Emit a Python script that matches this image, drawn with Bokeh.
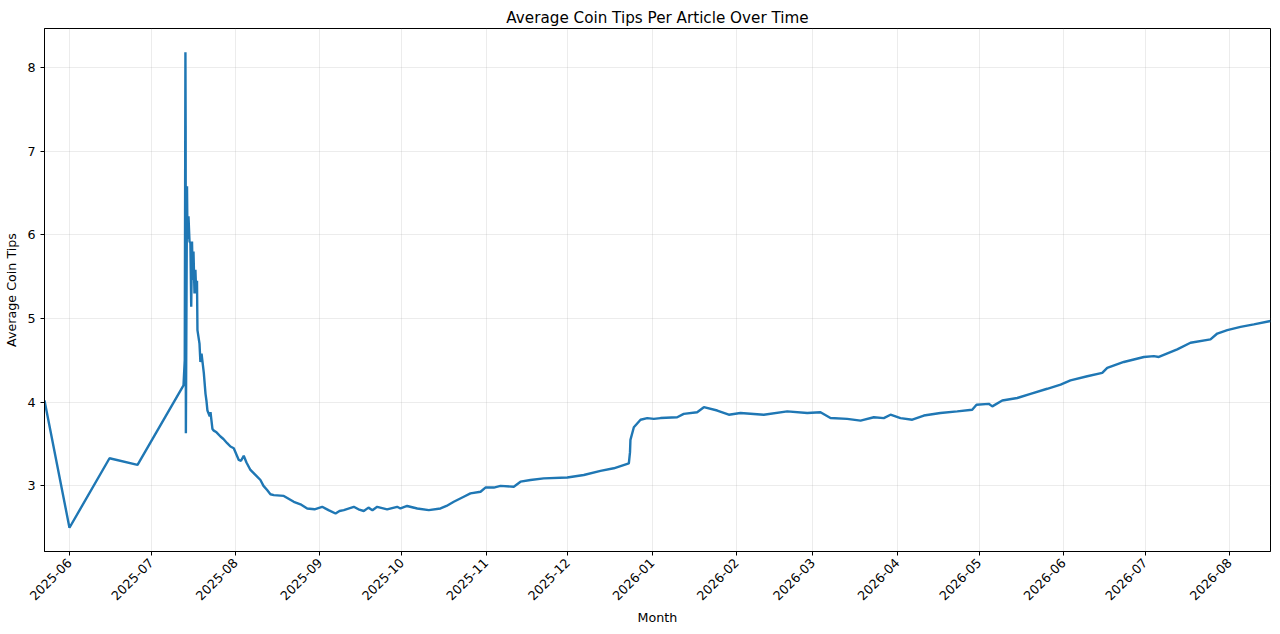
import pandas as pd
from math import pi
from bokeh.plotting import figure
from bokeh.models import Range1d, DatetimeTickFormatter, MonthsTicker, SingleIntervalTicker, ColumnDataSource
from bokeh.embed import file_html
from bokeh.resources import INLINE

dates = [
    "2025-05-22 20:00", "2025-06-01 00:00", "2025-06-15 17:00", "2025-06-26 00:00", "2025-07-12 21:00",
    "2025-07-13 08:00", "2025-07-13 14:00", "2025-07-13 16:00", "2025-07-13 18:00", "2025-07-14 04:00",
    "2025-07-14 08:00", "2025-07-14 17:00", "2025-07-15 02:00", "2025-07-15 10:00", "2025-07-15 17:00",
    "2025-07-16 00:00", "2025-07-16 07:00", "2025-07-16 13:00", "2025-07-16 22:00", "2025-07-17 06:00",
    "2025-07-17 13:00", "2025-07-17 20:00", "2025-07-18 00:00", "2025-07-18 18:00", "2025-07-19 02:00",
    "2025-07-19 12:00", "2025-07-20 08:00", "2025-07-20 23:00", "2025-07-21 07:00", "2025-07-21 16:00",
    "2025-07-22 12:00", "2025-07-22 19:00", "2025-07-23 12:00", "2025-07-24 00:00", "2025-07-25 00:00",
    "2025-07-26 11:00", "2025-07-27 13:00", "2025-07-28 22:00", "2025-07-30 03:00", "2025-07-31 08:00",
    "2025-08-02 04:00", "2025-08-03 00:00", "2025-08-04 00:00", "2025-08-05 00:00", "2025-08-06 11:00",
    "2025-08-08 22:00", "2025-08-10 03:00", "2025-08-11 06:00", "2025-08-12 14:00", "2025-08-13 19:00",
    "2025-08-15 01:00", "2025-08-18 17:00", "2025-08-22 09:00", "2025-08-24 20:00", "2025-08-27 07:00",
    "2025-08-30 00:00", "2025-09-01 19:00", "2025-09-04 03:00", "2025-09-06 17:00", "2025-09-08 04:00",
    "2025-09-09 18:00", "2025-09-13 10:00", "2025-09-15 03:00", "2025-09-17 02:00", "2025-09-18 19:00",
    "2025-09-20 06:00", "2025-09-22 00:00", "2025-09-25 16:00", "2025-09-29 08:00", "2025-09-30 13:00",
    "2025-10-03 00:00", "2025-10-06 17:00", "2025-10-10 23:00", "2025-10-15 06:00", "2025-10-17 11:00",
    "2025-10-20 03:00", "2025-10-23 19:00", "2025-10-26 06:00", "2025-10-29 23:00", "2025-10-31 18:00",
    "2025-11-03 20:00", "2025-11-06 07:00", "2025-11-11 04:00", "2025-11-13 15:00", "2025-11-17 07:00",
    "2025-11-22 04:00", "2025-11-30 19:00", "2025-12-06 21:00", "2025-12-13 00:00", "2025-12-17 21:00",
    "2025-12-23 10:00", "2025-12-23 20:00", "2025-12-24 00:00", "2025-12-25 06:00", "2025-12-27 17:00",
    "2025-12-30 04:00", "2026-01-01 14:00", "2026-01-04 01:00", "2026-01-10 04:00", "2026-01-12 14:00",
    "2026-01-17 12:00", "2026-01-19 23:00", "2026-01-24 21:00", "2026-01-29 03:00", "2026-02-02 10:00",
    "2026-02-10 23:00", "2026-02-19 14:00", "2026-02-26 22:00", "2026-03-03 19:00", "2026-03-07 11:00",
    "2026-03-13 14:00", "2026-03-18 12:00", "2026-03-23 09:00", "2026-03-27 01:00", "2026-03-29 12:00",
    "2026-04-02 04:00", "2026-04-06 12:00", "2026-04-10 18:00", "2026-04-16 20:00", "2026-04-23 00:00",
    "2026-04-28 12:00", "2026-04-30 02:00", "2026-05-04 14:00", "2026-05-05 21:00", "2026-05-09 13:00",
    "2026-05-15 01:00", "2026-05-19 22:00", "2026-05-26 01:00", "2026-05-30 23:00", "2026-06-03 14:00",
    "2026-06-09 18:00", "2026-06-15 06:00", "2026-06-17 02:00", "2026-06-23 04:00", "2026-06-30 13:00",
    "2026-07-04 05:00", "2026-07-06 01:00", "2026-07-12 19:00", "2026-07-17 16:00", "2026-07-25 00:00",
    "2026-07-27 12:00", "2026-07-31 04:00", "2026-08-05 01:00", "2026-08-09 22:00", "2026-08-16 01:00",
]

avg_tips = [
    4.02, 2.50, 3.33, 3.25, 4.20,
    4.50, 8.18, 7.30, 3.63, 6.58,
    5.95, 6.22, 5.92, 5.90, 5.14,
    5.92, 5.46, 5.80, 5.30, 5.58,
    5.30, 5.45, 4.86, 4.70, 4.48,
    4.58, 4.35, 4.10, 4.02, 3.90,
    3.83, 3.88, 3.68, 3.66, 3.64,
    3.59, 3.56, 3.51, 3.47, 3.45,
    3.31, 3.30, 3.36, 3.28, 3.19,
    3.11, 3.07, 3.00, 2.95, 2.90,
    2.89, 2.88, 2.81, 2.78, 2.73,
    2.72, 2.75, 2.71, 2.67, 2.70,
    2.71, 2.75, 2.72, 2.70, 2.74,
    2.71, 2.75, 2.72, 2.75, 2.73,
    2.76, 2.73, 2.71, 2.73, 2.76,
    2.81, 2.87, 2.91, 2.93, 2.98,
    2.98, 3.00, 2.99, 3.05, 3.07,
    3.09, 3.10, 3.13, 3.18, 3.21,
    3.27, 3.40, 3.55, 3.70, 3.79,
    3.81, 3.80, 3.81, 3.82, 3.86,
    3.88, 3.94, 3.90, 3.85, 3.87,
    3.85, 3.89, 3.87, 3.88, 3.81,
    3.80, 3.78, 3.82, 3.81, 3.85,
    3.81, 3.79, 3.84, 3.87, 3.89,
    3.91, 3.97, 3.98, 3.95, 4.02,
    4.05, 4.10, 4.16, 4.21, 4.26,
    4.31, 4.35, 4.41, 4.48, 4.54,
    4.55, 4.54, 4.63, 4.71, 4.75,
    4.82, 4.86, 4.90, 4.93, 4.97,
]

title_text = "Average Coin Tips Per Article Over Time"
x_label = "Month"
y_label = "Average Coin Tips"

dt = pd.to_datetime(dates)
src = ColumnDataSource(dict(x=dt, y=avg_tips))

ymin, ymax = min(avg_tips), max(avg_tips)
pad = (ymax - ymin) * 0.05

FONT = "DejaVu Sans"

p = figure(
    width=1280, height=634,
    x_axis_type="datetime",
    x_range=Range1d(dt[0], dt[-1]),
    y_range=Range1d(ymin - pad, ymax + pad),
    output_backend="svg", toolbar_location=None,
    min_border_left=44, min_border_right=10, min_border_top=28, min_border_bottom=83,
    title=title_text,
)
p.title.align = "center"
p.title.text_font = FONT
p.title.text_font_size = "15.2px"
p.title.text_font_style = "normal"
p.title.text_color = "black"
p.title.standoff = 3
p.title.offset = 0

p.line("x", "y", source=src, line_color="#1f77b4", line_width=2.4)

p.xaxis.ticker = MonthsTicker(months=list(range(1, 13)))
p.xaxis.formatter = DatetimeTickFormatter(months="%Y-%m", days="%Y-%m", years="%Y-%m")
p.xaxis.major_label_orientation = pi / 4
p.yaxis.ticker = SingleIntervalTicker(interval=1)

for ax in (p.xaxis[0], p.yaxis[0]):
    ax.major_label_text_font = FONT
    ax.major_label_text_font_size = "12.7px"
    ax.major_label_text_color = "black"
    ax.axis_label_text_font = FONT
    ax.axis_label_text_font_size = "12.7px"
    ax.axis_label_text_font_style = "normal"
    ax.axis_label_text_color = "black"
    ax.axis_line_color = "black"
    ax.major_tick_line_color = "black"
    ax.major_tick_out = 4
    ax.major_tick_in = 0
    ax.minor_tick_line_color = None
    ax.major_label_standoff = 5

p.xaxis.axis_label = x_label
p.yaxis.axis_label = y_label
p.xaxis.axis_label_standoff = 3
p.yaxis.axis_label_standoff = 5

p.outline_line_color = "black"
p.outline_line_width = 1
p.outline_line_alpha = 1

p.xgrid.ticker = p.xaxis[0].ticker
p.grid.grid_line_color = "#b0b0b0"
p.grid.grid_line_alpha = 0.3
p.grid.grid_line_width = 0.8

p.background_fill_color = "white"
p.border_fill_color = "white"

open("out.html", "w").write(file_html(p, INLINE))
